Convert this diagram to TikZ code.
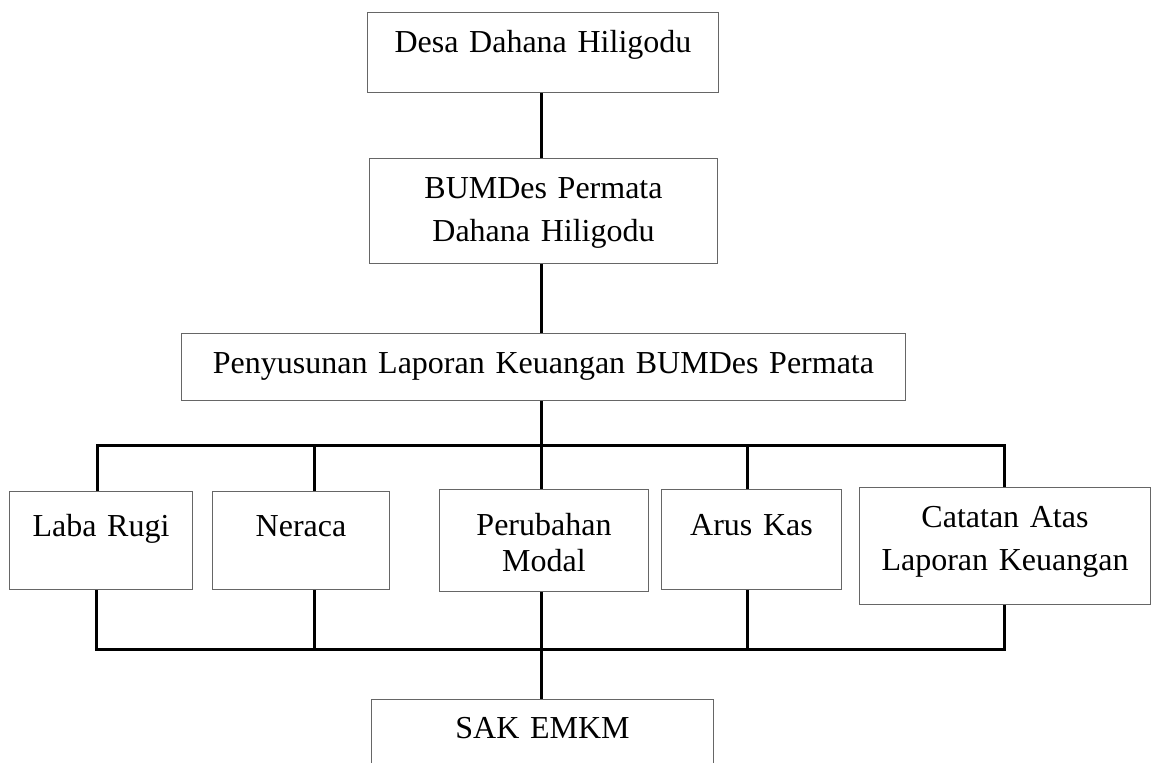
\documentclass[tikz,border=0pt]{standalone}
\usepackage{fontspec}
\setmainfont{Liberation Serif}

\begin{document}
\begin{tikzpicture}[x=1pt,y=-1pt]
\tikzstyle{every node}=[font=\fontsize{32}{43}\selectfont]
\tikzstyle{kotak}=[draw=black!60, line width=1pt, inner sep=0pt, anchor=north west, align=center]
\tikzstyle{garis}=[line width=3pt]

\useasboundingbox (0,0) rectangle (1152,763);

\node[kotak, text width=351pt, text height=40pt, text depth=40pt] (desa) at (367,12) {Desa Dahana Hiligodu};
\node[kotak, text width=348pt, text height=40pt, text depth=65pt] (bumdes) at (369,158) {BUMDes Permata\\Dahana Hiligodu};
\node[kotak, text width=724pt, text height=40pt, text depth=27pt] (susun) at (181,333) {Penyusunan Laporan Keuangan BUMDes Permata};

\node[kotak, text width=183pt, text height=45pt, text depth=53pt] (laba) at (9,491) {Laba Rugi};
\node[kotak, text width=177pt, text height=45pt, text depth=53pt] (neraca) at (212,491) {Neraca};
\node[kotak, text width=209pt, text height=46pt, text depth=56pt] (modal) at (439,489) {Perubahan\\[-7pt]Modal};
\node[kotak, text width=180pt, text height=46pt, text depth=54pt] (arus) at (661,489) {Arus Kas};
\node[kotak, text width=291pt, text height=40pt, text depth=77pt] (catatan) at (859,487) {Catatan Atas\\Laporan Keuangan};

\node[kotak, text width=342pt, text height=39pt, text depth=50pt] (sak) at (371,699) {SAK EMKM};

\coordinate (ka) at (541,445);
\coordinate (kb) at (541,649);

\draw[garis] (desa.south -| ka) -- (bumdes.north -| ka);
\draw[garis] (bumdes.south -| ka) -- (susun.north -| ka);
\draw[garis] (susun.south -| ka) -- (ka);

\draw[garis] (97,0 |- laba.north) -- (97,445) -- (1004,445) -- (1004,0 |- catatan.north);
\foreach \n/\x in {neraca/314, modal/541, arus/747}
	\draw[garis] (\x,445) -- (\x,0 |- \n.north);

\draw[garis] (96,0 |- laba.south) -- (96,649) -- (1004,649) -- (1004,0 |- catatan.south);
\foreach \n/\x in {neraca/314, modal/541, arus/747}
	\draw[garis] (\x,0 |- \n.south) -- (\x,649);

\draw[garis] (kb) -- (sak.north -| kb);

\end{tikzpicture}
\end{document}
